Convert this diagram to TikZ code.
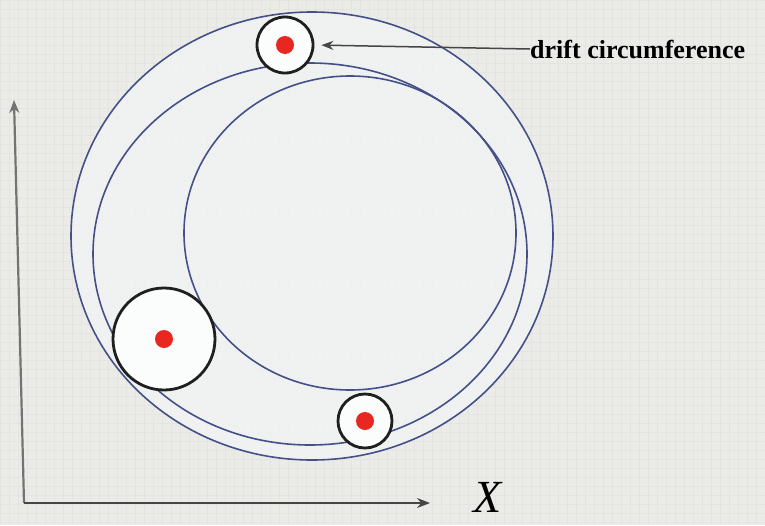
\documentclass[tikz,border=0pt]{standalone}
\usepackage{fontspec}
\setmainfont{Liberation Serif}
\usepackage{tikz}
\usetikzlibrary{arrows.meta, positioning}
\definecolor{Orbitcolor}{RGB}{68,80,135}
\definecolor{Dotcolor}{RGB}{232,40,32}
\definecolor{Papercolor}{RGB}{235,235,232}
\definecolor{Gridcolor}{RGB}{228,229,226}
\definecolor{Ringcolor}{RGB}{243,244,246}
\definecolor{Axiscolor}{RGB}{70,70,70}

\begin{document}
\begin{tikzpicture}[
  x=1pt, y=-1pt,
  orbit/.style={
    draw=Orbitcolor, line width=1.6pt
  },
  gyro/.style={
    circle, draw=black!88, line width=2.8pt,
    fill=white!70!Ringcolor, minimum size=#1, inner sep=0pt
  },
  dot/.style={
    circle, fill=Dotcolor, minimum size=18pt, inner sep=0pt
  },
  pointer/.style={
    -{Stealth[length=12pt, width=9pt]},
    line width=1.5pt, color=Axiscolor
  },
  axis/.style={
    -{Stealth[length=13pt, width=10pt, fill=Axiscolor]},
    line width=#1, color=Axiscolor
  },
  driftlabel/.style={font=\fontsize{26}{28}\selectfont\bfseries,
    inner sep=0pt, anchor=base west}
]

%% ═══════════════════════════════════════════════
%% Fondo
%% ═══════════════════════════════════════════════
\useasboundingbox (0,0) rectangle (765,525);
\fill[Papercolor] (0,0) rectangle (765,525);
\draw[Gridcolor, line width=0.5pt, step=9pt] (0,0) grid (765,525);

%% ═══════════════════════════════════════════════
%% Envolventes de la órbita
%% ═══════════════════════════════════════════════
\fill[Ringcolor, fill opacity=0.7]
  (312,236) ellipse [x radius=241pt, y radius=224pt];

%% exterior
\draw[orbit] (312,236) ellipse [x radius=241pt, y radius=224pt];
%% intermedia
\draw[orbit] (310,254) ellipse [x radius=217pt, y radius=191pt];
%% interior
\draw[orbit] (350,233) ellipse [x radius=166pt, y radius=157pt];

%% ═══════════════════════════════════════════════
%% Círculos de giro
%% ═══════════════════════════════════════════════
\node[gyro=56pt]  (gyroTop)    at (285,45)  {};
\node[gyro=102pt] (gyroLeft)   at (164,339) {};
\node[gyro=54pt]  (gyroBottom) at (365,421) {};

\node[dot] (dotTop)    at (gyroTop)    {};
\node[dot] (dotLeft)   at (gyroLeft)   {};
\node[dot] (dotBottom) at (gyroBottom) {};

%% Etiqueta
\node[driftlabel] (drift) at (530,58) {drift circumference};
\draw[pointer, shorten >=7pt] (drift.west) -- (gyroTop.east);

%% ═══════════════════════════════════════════════
%% Ejes
%% ═══════════════════════════════════════════════
\coordinate (origin) at (24,503);
\coordinate (yTip)   at (14,100);
\coordinate (xTip)   at (430,503);
\draw[axis=2.2pt, color=black!55] (origin) -- (yTip);
\draw[axis=1.5pt] (origin) -- (xTip);
\node[font=\fontsize{46}{46}\selectfont\itshape, inner sep=0pt]
  (xlabel) at (488,497) {X};

\end{tikzpicture}
\end{document}
